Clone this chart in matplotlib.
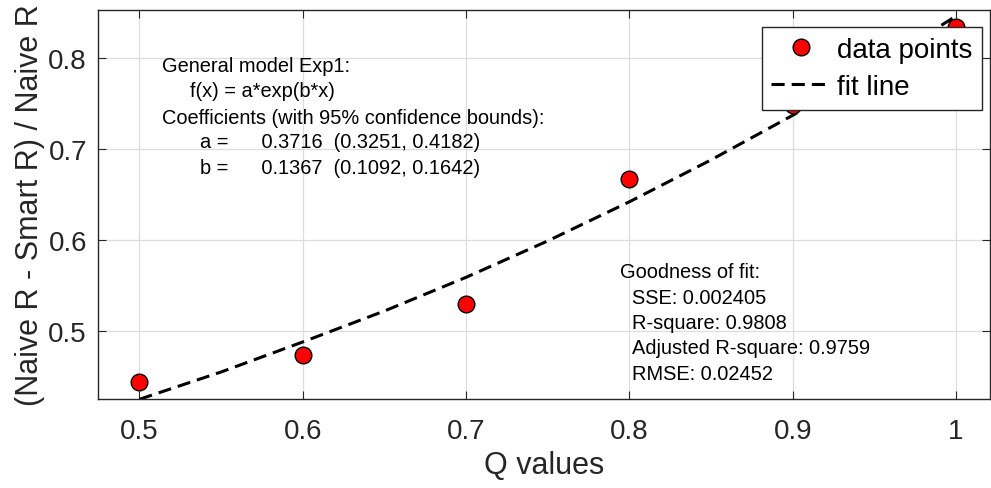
"""
Ajuste exponencial da reducao relativa (Naive R vs Smart R) em funcao de Q
"""
import matplotlib
matplotlib.use('Agg')
import matplotlib.pyplot as plt

plt.rcParams['font.family'] = ['Liberation Sans', 'DejaVu Sans']

# Dados medidos
q_vals = [0.5, 0.6, 0.7, 0.8, 0.9, 1.0]
ratio = [0.444, 0.474, 0.530, 0.667, 0.748, 0.834]

# Curva de ajuste
q_fit = [0.5, 0.55, 0.6, 0.65, 0.7, 0.75, 0.8, 0.85, 0.9, 0.95, 1.0]
r_fit = [0.425, 0.455, 0.488, 0.522, 0.559, 0.599, 0.642, 0.688, 0.737, 0.790, 0.846]

xticks = [0.5, 0.6, 0.7, 0.8, 0.9, 1.0]
xtick_labels = ['0.5', '0.6', '0.7', '0.8', '0.9', '1']
yticks = [0.5, 0.6, 0.7, 0.8]

model_txt = [
    (162, 67, 'General model Exp1:'),
    (190, 92, 'f(x) = a*exp(b*x)'),
    (162, 118, 'Coefficients (with 95% confidence bounds):'),
    (200, 143, 'a =      0.3716  (0.3251, 0.4182)'),
    (200, 168, 'b =      0.1367  (0.1092, 0.1642)'),
]
gof_txt = [
    (620, 273, 'Goodness of fit:'),
    (632, 299, 'SSE: 0.002405'),
    (632, 324, 'R-square: 0.9808'),
    (632, 349, 'Adjusted R-square: 0.9759'),
    (632, 375, 'RMSE: 0.02452'),
]

W, H = 991, 489
dark = '#262626'

fig = plt.figure(figsize=(W/100, H/100), dpi=100)
ax = fig.add_axes([98/W, 1 - 400/H, (990 - 98)/W, (400 - 11)/H])

ax.plot(q_vals, ratio, 'o', ms=12, mfc='red', mec='black', mew=1.0,
        label='data points', zorder=3)
ax.plot(q_fit, r_fit, '--', color='black', lw=2.2, dashes=(4.3, 2.3),
        label='fit line', zorder=2)

ax.set_xlim(0.4746, 1.0208)
ax.set_ylim(0.4253, 0.8527)
ax.set_xticks(xticks)
ax.set_xticklabels(xtick_labels)
ax.set_yticks(yticks)
ax.tick_params(direction='in', length=6, width=0.8, colors=dark,
               labelsize=20, top=True, right=True)
ax.tick_params(axis='x', pad=14)
ax.tick_params(axis='y', pad=8)
ax.grid(True, color='#dddddd', lw=0.9)
ax.set_axisbelow(True)
for s in ax.spines.values():
    s.set_color(dark)
    s.set_linewidth(1.0)

ax.set_xlabel('Q values', fontsize=22, color=dark, labelpad=4)
ax.set_ylabel('(Naive R - Smart R) / Naive R', fontsize=22, color=dark, labelpad=2)

leg = ax.legend(loc='upper right', bbox_to_anchor=(982/W, 1 - 28/H),
                bbox_transform=fig.transFigure, borderaxespad=0, fontsize=20,
                fancybox=False, framealpha=1, edgecolor=dark,
                handlelength=2.16, handletextpad=0.2, labelspacing=0.4,
                borderpad=0.35)
leg.get_frame().set_linewidth(1.0)

for x, y, t in model_txt + gof_txt:
    fig.text(x/W, 1 - y/H, t, fontsize=14.4, va='center', ha='left', color='black')

fig.savefig('out.png', dpi=100)
